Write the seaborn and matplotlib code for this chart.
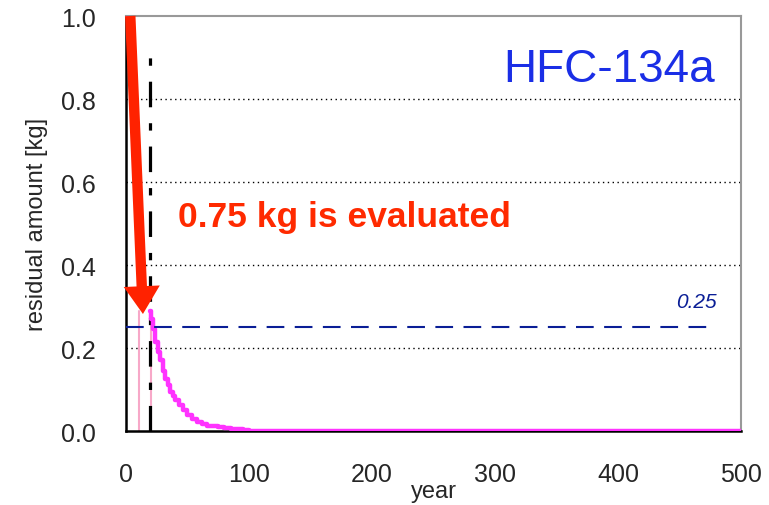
import matplotlib
matplotlib.use("Agg")
import matplotlib.pyplot as plt
import seaborn as sns
import pandas as pd

# residual amount of HFC-134a over time
years = [19.5, 20, 22, 24, 26, 28, 30, 32, 34, 36, 38, 40, 43, 46, 50, 54, 58, 62, 66, 70, 75, 80, 85, 90, 95, 100, 200, 300, 400, 500]
residual = [0.29, 0.27, 0.245, 0.215, 0.19, 0.17, 0.145, 0.125, 0.11, 0.095, 0.085, 0.075, 0.062, 0.05, 0.038, 0.03, 0.022, 0.017, 0.013, 0.011, 0.009, 0.007, 0.006, 0.004, 0.003, 0.0, 0.0, 0.0, 0.0, 0.0]
start_years = [0, 3]
start_residual = [1.0, 1.0]
threshold = 0.25
marker_years = [10.5, 20.3]
eval_year = 19.5
xticks = [0, 100, 200, 300, 400, 500]
yticks = [0.0, 0.2, 0.4, 0.6, 0.8, 1.0]

df = pd.DataFrame({"year": years, "residual": residual})
df0 = pd.DataFrame({"year": start_years, "residual": start_residual})

sns.set_style("white")
plt.rcParams['font.family'] = ['Liberation Sans', 'DejaVu Sans']

fig = plt.figure(figsize=(7.69, 5.06), dpi=100)
ax = fig.add_axes([0.1638, 0.1462, 0.7998, 0.8202])

# dotted grid lines
for yv in yticks[1:-1]:
    ax.axhline(yv, color="black", lw=1.0, ls=(0, (1, 2.5)), zorder=1)

# pink marker lines
for xv in marker_years:
    ax.plot([xv, xv], [0, 0.29], color="#f7a8c8", lw=1.5, zorder=2)

# evaluation line (dash-dot)
ax.plot([eval_year, eval_year], [0, 0.92], color="black", lw=2.3,
        ls=(0, (8, 5, 2.3, 5)), zorder=3)

sns.lineplot(data=df, x="year", y="residual", ax=ax, color="#ff33ff",
             lw=3.2, drawstyle="steps-post", zorder=4)
sns.lineplot(data=df0, x="year", y="residual", ax=ax, color="#ff33ff",
             lw=3.2, zorder=4)

# threshold line
ax.axhline(threshold, xmin=0.0, xmax=0.955, color="#0a1e96", lw=1.5,
           ls=(0, (8.5, 5)), zorder=5)
ax.text(480.5, 0.313, "0.25", color="#0a1e96", fontsize=15,
        style="italic", ha="right", va="center")

# red arrow
ax.annotate("", xy=(13.8, 0.282), xytext=(3.5, 1.0),
            arrowprops=dict(arrowstyle="simple,head_length=2.0,head_width=2.6,tail_width=0.75",
                            color="#ff2200", lw=0, mutation_scale=10,
                            shrinkA=0, shrinkB=0), zorder=6)

ax.text(393, 0.872, "HFC-134a", color="#1a2ee6", fontsize=33,
        ha="center", va="center")
ax.text(178, 0.516, "0.75 kg is evaluated", color="#ff2a00", fontsize=25.5,
        fontweight="bold", ha="center", va="center")

ax.set_xlim(0, 500)
ax.set_ylim(0, 1.0)
ax.set_xticks(xticks)
ax.set_yticks(yticks)
ax.set_xticklabels([str(v) for v in xticks], fontsize=18)
ax.set_yticklabels([f"{v:.1f}" for v in yticks], fontsize=18)
ax.tick_params(axis="x", direction="in", length=7, width=1.5, pad=22)
ax.tick_params(axis="y", direction="in", length=7, width=1.5, pad=22)
ax.set_xlabel("year", fontsize=17, labelpad=-4)
ax.set_ylabel("residual amount [kg]", fontsize=17, labelpad=9)

for side in ["left", "bottom"]:
    ax.spines[side].set_color("black")
    ax.spines[side].set_linewidth(1.8)
for side in ["top", "right"]:
    ax.spines[side].set_color("#999999")
    ax.spines[side].set_linewidth(1.5)

fig.savefig("out.png", dpi=100)
